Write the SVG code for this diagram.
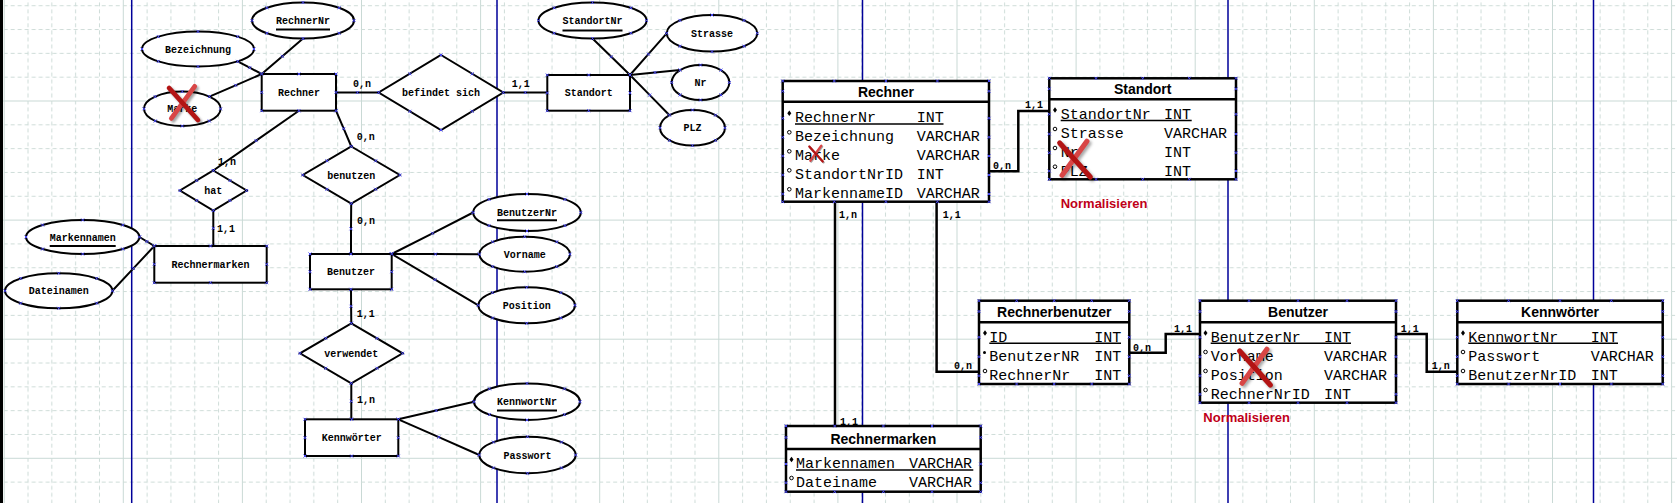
<svg xmlns="http://www.w3.org/2000/svg" xmlns:xlink="http://www.w3.org/1999/xlink" width="1677" height="503" viewBox="0 0 1677 503">
<style>
.er{fill:#fff;stroke:#000;stroke-width:2}
.ln{fill:none;stroke:#000;stroke-width:2;marker-start:url(#x);marker-mid:url(#x);marker-end:url(#x)}
.h{fill:none;stroke:none;marker-start:url(#x);marker-mid:url(#x);marker-end:url(#x)}
.t{font-family:"Liberation Mono",monospace;font-size:10px;font-weight:bold;text-anchor:middle;fill:#000}
.c{font-family:"Liberation Mono",monospace;font-size:10px;font-weight:bold;fill:#000}
.tb{fill:#fff;stroke:#000;stroke-width:2.5}
.sep{stroke:#000;stroke-width:2.5}
.th{font-family:"Liberation Sans",Arial,sans-serif;font-size:14px;font-weight:bold;text-anchor:middle;fill:#000}
.r{font-family:"Liberation Mono","Courier New",monospace;font-size:15px;fill:#000}
.ul{stroke:#000;stroke-width:1.5}
.eu{stroke:#000;stroke-width:2}
.norm{font-family:"Liberation Sans",Arial,sans-serif;font-weight:bold;font-size:13px;fill:#c00018}
.cn{fill:none;stroke:#000;stroke-width:2.5}
.pk{fill:#000}
.ok{fill:#fff;stroke:#000;stroke-width:1}
</style>
<defs>
<pattern id="grid" patternUnits="userSpaceOnUse" x="122.8" y="100.5" width="119.1" height="119.1">
<path d="M0.5,0V119.1M0,0.5H119.1" stroke="#c9d9d5" stroke-width="1" fill="none"/>
<path d="M24.3,0V119.1M48.1,0V119.1M71.9,0V119.1M95.8,0V119.1M0,24.3H119.1M0,48.1H119.1M0,71.9H119.1M0,95.8H119.1" stroke="#cedcd8" stroke-width="1" stroke-dasharray="4 3" fill="none"/>
</pattern>
<marker id="x" markerUnits="userSpaceOnUse" markerWidth="6" markerHeight="6" refX="3" refY="3" overflow="visible">
<path d="M1.5,1.5L4.5,4.5M4.5,1.5L1.5,4.5" stroke="#4646f0" stroke-width="1" fill="none"/>
</marker>
<filter id="sh" x="-50%" y="-50%" width="200%" height="200%"><feGaussianBlur stdDeviation="0.04"/></filter>
<g id="rx">
<path d="M-0.39,-0.44L0.51,0.56M0.41,-0.49L-0.32,0.51" stroke="#000" stroke-opacity="0.35" stroke-width="0.15" stroke-linecap="round" fill="none" filter="url(#sh)"/>
<path d="M0.35,-0.55L-0.38,0.45" stroke="#d84646" stroke-width="0.15" stroke-linecap="round" fill="none"/>
<path d="M-0.45,-0.5L0.45,0.5" stroke="#b31414" stroke-width="0.15" stroke-linecap="round" fill="none"/>
</g>
<path id="pkm" d="M0,-2.8L2,0L0,2.8L-2,0Z"/>
</defs>

<rect width="1677" height="503" fill="#fff"/>
<rect width="1677" height="503" fill="url(#grid)"/>
<path d="M131.7,0V503M497,0V503M862.5,0V503M1228,0V503M1593.5,0V503" stroke="#000099" stroke-width="1.5" fill="none"/>
<rect x="0" y="0" width="3" height="503" fill="#000"/>

<g id="connectors">
<polyline class="ln" points="303,38.5 282.4,56.3 261.7,74"/>
<polyline class="ln" points="237.6,61.4 249.7,67.7 261.7,74"/>
<polyline class="ln" points="209.4,96.6 235.6,85.3 261.7,74"/>
<polyline class="ln" points="298.9,110.7 256.1,140.6 213.3,170.5"/>
<polyline class="ln" points="213.3,210.5 213.3,228.3 213.3,246"/>
<polyline class="ln" points="139.4,237 146.9,241.5 154.3,246"/>
<polyline class="ln" points="112.4,290.8 133.4,268.4 154.3,246"/>
<polyline class="ln" points="336,92.5 357.4,92.5 378.7,92.5"/>
<polyline class="ln" points="503.3,92.5 525.3,92.5 547.3,92.5"/>
<polyline class="ln" points="630,75 611.3,56.8 592.5,38.5"/>
<polyline class="ln" points="630,75 648.4,54.2 666.7,33.3"/>
<polyline class="ln" points="630,75 655,72.5 680.1,70.1"/>
<polyline class="ln" points="630,75 649.8,95.1 669.5,115.2"/>
<polyline class="ln" points="336,110.7 343.7,128.6 351.3,146.5"/>
<polyline class="ln" points="351.2,203.5 351,228.8 351,254"/>
<polyline class="ln" points="391.7,254 432.5,233.3 473.2,212.5"/>
<polyline class="ln" points="391.7,254 435.5,254.1 479.4,254.2"/>
<polyline class="ln" points="391.7,254 435,279.7 478.4,305.3"/>
<polyline class="ln" points="351,289.3 351.1,306.3 351.3,323.3"/>
<polyline class="ln" points="351.3,383.3 351.3,401.3 351.3,419.3"/>
<polyline class="ln" points="398.3,419.3 436.2,410.5 474,401.7"/>
<polyline class="ln" points="398.3,419.3 438.8,437.2 479.3,455"/>
<text class="c" x="218" y="164.5">1,n</text>
<text class="c" x="217" y="231.7">1,1</text>
<text class="c" x="353" y="86.7">0,n</text>
<text class="c" x="511.7" y="86.7">1,1</text>
<text class="c" x="356.7" y="140">0,n</text>
<text class="c" x="357" y="224.3">0,n</text>
<text class="c" x="356.7" y="316.7">1,1</text>
<text class="c" x="357" y="403.3">1,n</text>

<path class="cn" d="M989,171.3H1018.3V111H1049.3"/>
<path class="cn" d="M936.6,201.7V371.7H979"/>
<path class="cn" d="M835,201.7V426"/>
<path class="cn" d="M1129.3,352.7H1165.7V334H1200"/>
<path class="cn" d="M1396,334H1426.7V371.7H1457.3"/>
<text class="c" x="993" y="169.3">0,n</text>
<text class="c" x="1025" y="108">1,1</text>
<text class="c" x="942.7" y="218.3">1,1</text>
<text class="c" x="954" y="369.3">0,n</text>
<text class="c" x="839" y="218.3">1,n</text>
<text class="c" x="840" y="425">1,1</text>
<text class="c" x="1133" y="350.7">0,n</text>
<text class="c" x="1174" y="331.5">1,1</text>
<text class="c" x="1400.7" y="331.7">1,1</text>
<text class="c" x="1431.7" y="369.3">1,n</text>
</g>

<!-- ER attributes -->
<g id="attr-bezeichnung"><ellipse class="er" cx="198" cy="49" rx="56" ry="17.5"/><text class="t" x="198" y="52.5">Bezeichnung</text>
<polyline class="h" points="254,49 237.6,61.4 198,66.5 158.4,61.4 142,49 158.4,36.6 198,31.5 237.6,36.6"/></g>
<g id="attr-rechnernr"><ellipse class="er" cx="303" cy="20.5" rx="51" ry="18"/><text class="t" x="303" y="24">RechnerNr</text><path class="eu" d="M276,29.5H330"/>
<polyline class="h" points="354,20.5 339.1,33.2 303,38.5 266.9,33.2 252,20.5 266.9,7.8 303,2.5 339.1,7.8"/></g>
<g id="attr-marke"><ellipse class="er" cx="182.3" cy="108.8" rx="38.3" ry="17.2"/><text class="t" x="182.3" y="112.3">Marke</text>
<polyline class="h" points="220.6,108.8 209.4,121 182.3,126 155.2,121 144,108.8 155.2,96.6 182.3,91.6 209.4,96.6"/>
<use xlink:href="#rx" href="#rx" transform="translate(183.5,104) scale(32)"/></g>
<g id="attr-standortnr"><ellipse class="er" cx="592.5" cy="20.5" rx="54" ry="18"/><text class="t" x="592.5" y="24">StandortNr</text><path class="eu" d="M562.5,30.5H622.5"/>
<polyline class="h" points="646.5,20.5 630.8,33.2 592.5,38.5 554.2,33.2 538.5,20.5 554.2,7.8 592.5,2.5 630.8,7.8"/></g>
<g id="attr-strasse"><ellipse class="er" cx="712" cy="33.3" rx="45.3" ry="18.3"/><text class="t" x="712" y="36.8">Strasse</text>
<polyline class="h" points="757.3,33.3 744,46.2 712,51.6 680,46.2 666.7,33.3 680,20.4 712,15 744,20.4"/></g>
<g id="attr-nr"><ellipse class="er" cx="700.5" cy="82.5" rx="28.8" ry="17.5"/><text class="t" x="700.5" y="86">Nr</text>
<polyline class="h" points="729.3,82.5 720.9,94.9 700.5,100 680.1,94.9 671.7,82.5 680.1,70.1 700.5,65 720.9,70.1"/></g>
<g id="attr-plz"><ellipse class="er" cx="692.5" cy="127.8" rx="32.5" ry="17.8"/><text class="t" x="692.5" y="131.3">PLZ</text>
<polyline class="h" points="725,127.8 715.5,140.4 692.5,145.6 669.5,140.4 660,127.8 669.5,115.2 692.5,110 715.5,115.2"/></g>
<g id="attr-markennamen"><ellipse class="er" cx="82.7" cy="237" rx="56.7" ry="17"/><text class="t" x="82.7" y="240.5">Markennamen</text><path class="eu" d="M49.7,246H115.7"/>
<polyline class="h" points="139.4,237 122.8,249 82.7,254 42.6,249 26,237 42.6,225 82.7,220 122.8,225"/></g>
<g id="attr-dateinamen"><ellipse class="er" cx="58.7" cy="290.8" rx="53.7" ry="17.5"/><text class="t" x="58.7" y="294.3">Dateinamen</text>
<polyline class="h" points="112.4,290.8 96.7,303.2 58.7,308.3 20.7,303.2 5,290.8 20.7,278.4 58.7,273.3 96.7,278.4"/></g>
<g id="attr-benutzernr"><ellipse class="er" cx="527" cy="212.5" rx="53.8" ry="18.5"/><text class="t" x="527" y="216">BenutzerNr</text><path class="eu" d="M497,220.3H557"/>
<polyline class="h" points="580.8,212.5 565,225.6 527,231 489,225.6 473.2,212.5 489,199.4 527,194 565,199.4"/></g>
<g id="attr-vorname"><ellipse class="er" cx="524.7" cy="254.2" rx="45.3" ry="17.5"/><text class="t" x="524.7" y="257.7">Vorname</text>
<polyline class="h" points="570,254.2 556.7,266.6 524.7,271.7 492.7,266.6 479.4,254.2 492.7,241.8 524.7,236.7 556.7,241.8"/></g>
<g id="attr-position"><ellipse class="er" cx="526.7" cy="305.3" rx="48.3" ry="18"/><text class="t" x="526.7" y="308.8">Position</text>
<polyline class="h" points="575,305.3 560.8,318 526.7,323.3 492.6,318 478.4,305.3 492.6,292.6 526.7,287.3 560.8,292.6"/></g>
<g id="attr-kennwortnr"><ellipse class="er" cx="527" cy="401.7" rx="53" ry="18.3"/><text class="t" x="527" y="405.2">KennwortNr</text><path class="eu" d="M497,410.5H557"/>
<polyline class="h" points="580,401.7 564.5,414.6 527,420 489.5,414.6 474,401.7 489.5,388.8 527,383.4 564.5,388.8"/></g>
<g id="attr-passwort"><ellipse class="er" cx="527.5" cy="455" rx="48.2" ry="18.3"/><text class="t" x="527.5" y="458.5">Passwort</text>
<polyline class="h" points="575.7,455 561.6,467.9 527.5,473.3 493.4,467.9 479.3,455 493.4,442.1 527.5,436.7 561.6,442.1"/></g>

<!-- ER entities -->
<g id="ent-rechner"><rect class="er" x="261.7" y="74" width="74.3" height="36.7"/><text class="t" x="298.9" y="96">Rechner</text>
<polyline class="h" points="261.7,74 298.9,74 336,74 336,92.4 336,110.7 298.9,110.7 261.7,110.7 261.7,92.4"/></g>
<g id="ent-standort"><rect class="er" x="547.3" y="75" width="82.7" height="35.7"/><text class="t" x="588.7" y="96.4">Standort</text>
<polyline class="h" points="547.3,75 588.7,75 630,75 630,92.9 630,110.7 588.7,110.7 547.3,110.7 547.3,92.9"/></g>
<g id="ent-rechnermarken"><rect class="er" x="154.3" y="246" width="112.4" height="36.7"/><text class="t" x="210.5" y="267.8">Rechnermarken</text>
<polyline class="h" points="154.3,246 210.5,246 266.7,246 266.7,264.3 266.7,282.7 210.5,282.7 154.3,282.7 154.3,264.3"/></g>
<g id="ent-benutzer"><rect class="er" x="310" y="254" width="81.7" height="35.3"/><text class="t" x="350.9" y="275.2">Benutzer</text>
<polyline class="h" points="310,254 350.9,254 391.7,254 391.7,271.7 391.7,289.3 350.9,289.3 310,289.3 310,271.7"/></g>
<g id="ent-kennwoerter"><rect class="er" x="305" y="419.3" width="93.3" height="36.7"/><text class="t" x="351.7" y="441.2">Kennwörter</text>
<polyline class="h" points="305,419.3 351.7,419.3 398.3,419.3 398.3,437.7 398.3,456 351.7,456 305,456 305,437.7"/></g>

<!-- ER relationships -->
<g id="rel-hat"><polygon class="er" points="213.3,170.5 246.6,190.5 213.3,210.5 180,190.5"/><text class="t" x="213.3" y="194">hat</text>
<polyline class="h" points="213.3,170.5 230,180.5 246.6,190.5 230,200.5 213.3,210.5 196.7,200.5 180,190.5 196.7,180.5"/></g>
<g id="rel-befindet"><polygon class="er" points="441,55 503.3,92.5 441,130 378.7,92.5"/><text class="t" x="441" y="96">befindet sich</text>
<polyline class="h" points="441,55 472.2,73.8 503.3,92.5 472.2,111.3 441,130 409.9,111.3 378.7,92.5 409.9,73.8"/></g>
<g id="rel-benutzen"><polygon class="er" points="351.3,146.5 399.8,175 351.3,203.5 302.8,175"/><text class="t" x="351.3" y="178.5">benutzen</text>
<polyline class="h" points="351.3,146.5 375.6,160.8 399.8,175 375.6,189.3 351.3,203.5 327,189.3 302.8,175 327,160.8"/></g>
<g id="rel-verwendet"><polygon class="er" points="351.3,323.3 402.6,353.3 351.3,383.3 300,353.3"/><text class="t" x="351.3" y="356.8">verwendet</text>
<polyline class="h" points="351.3,323.3 377,338.3 402.6,353.3 377,368.3 351.3,383.3 325.7,368.3 300,353.3 325.7,338.3"/></g>

<!-- Tables -->
<g id="tbl-rechner">
<rect class="tb" x="782.7" y="81" width="206.3" height="120.7"/><path class="sep" d="M782.7,101.7H989"/>
<text class="th" x="885.9" y="97">Rechner</text>
<use href="#pkm" xlink:href="#pkm" class="pk" x="789.3" y="113.3"/>
<circle class="ok" cx="789.3" cy="132.3" r="1.8"/><circle class="ok" cx="789.3" cy="151.3" r="1.8"/><circle class="ok" cx="789.3" cy="170.3" r="1.8"/><circle class="ok" cx="789.3" cy="189.3" r="1.8"/>
<text class="r" x="795" y="122.3">RechnerNr</text><text class="r" x="916.7" y="122.3">INT</text>
<text class="r" x="795" y="141.3">Bezeichnung</text><text class="r" x="916.7" y="141.3">VARCHAR</text>
<text class="r" x="795" y="160.3">Marke</text><text class="r" x="916.7" y="160.3">VARCHAR</text>
<text class="r" x="795" y="179.3">StandortNrID</text><text class="r" x="916.7" y="179.3">INT</text>
<text class="r" x="795" y="198.3">MarkennameID</text><text class="r" x="916.7" y="198.3">VARCHAR</text>
<path class="ul" d="M795,124H943.5"/>
<polyline class="h" points="782.7,81 834.3,81 885.9,81 937.4,81 989,81 989,91.3 989,118.3 989,137.3 989,156 989,175 989,194 989,201.7 937.4,201.7 885.9,201.7 834.3,201.7 782.7,201.7 782.7,194 782.7,175 782.7,156 782.7,137.3 782.7,118.3 782.7,91.3"/>
<use href="#rx" xlink:href="#rx" transform="translate(816,154) scale(15)"/>
</g>
<g id="tbl-standort">
<rect class="tb" x="1049.3" y="78.3" width="186.7" height="101"/><path class="sep" d="M1049.3,99.3H1236"/>
<text class="th" x="1142.7" y="94">Standort</text>
<use href="#pkm" xlink:href="#pkm" class="pk" x="1055" y="110"/>
<circle class="ok" cx="1055" cy="129" r="1.8"/><circle class="ok" cx="1055" cy="148" r="1.8"/><circle class="ok" cx="1055" cy="166.7" r="1.8"/>
<text class="r" x="1060.7" y="119">StandortNr</text><text class="r" x="1164" y="119">INT</text>
<text class="r" x="1060.7" y="138">Strasse</text><text class="r" x="1164" y="138">VARCHAR</text>
<text class="r" x="1060.7" y="157">Nr</text><text class="r" x="1164" y="157">INT</text>
<text class="r" x="1060.7" y="175.7">PLZ</text><text class="r" x="1164" y="175.7">INT</text>
<path class="ul" d="M1060.7,120.6H1191.7"/>
<polyline class="h" points="1049.3,78.3 1096,78.3 1142.7,78.3 1189.3,78.3 1236,78.3 1236,88.8 1236,114.3 1236,134 1236,152.7 1236,171 1236,179.3 1189.3,179.3 1142.7,179.3 1096,179.3 1049.3,179.3 1049.3,171 1049.3,152.7 1049.3,134 1049.3,114.3 1049.3,88.8"/>
<use href="#rx" xlink:href="#rx" transform="translate(1075,160) scale(34)"/>
<text class="norm" x="1060.7" y="207.7">Normalisieren</text>
</g>
<g id="tbl-rechnerbenutzer">
<rect class="tb" x="979" y="300.7" width="150.3" height="83.3"/><path class="sep" d="M979,322.3H1129.3"/>
<text class="th" x="1054.2" y="317.3">Rechnerbenutzer</text>
<use href="#pkm" xlink:href="#pkm" class="pk" x="985" y="333"/>
<circle class="pk" cx="984.5" cy="352.5" r="1.5"/><circle class="ok" cx="985" cy="371" r="1.8"/>
<text class="r" x="989.3" y="341.7">ID</text><text class="r" x="1094.3" y="341.7">INT</text>
<text class="r" x="989.3" y="360.7">BenutzerNR</text><text class="r" x="1094.3" y="360.7">INT</text>
<text class="r" x="989.3" y="379.7">RechnerNr</text><text class="r" x="1094.3" y="379.7">INT</text>
<path class="ul" d="M989.3,343.3H1121"/>
<polyline class="h" points="979,300.7 1016.6,300.7 1054.2,300.7 1091.7,300.7 1129.3,300.7 1129.3,311.5 1129.3,337.3 1129.3,356.7 1129.3,375.7 1129.3,384 1091.7,384 1054.2,384 1016.6,384 979,384 979,375.7 979,356.7 979,337.3 979,311.5"/>
</g>
<g id="tbl-benutzer">
<rect class="tb" x="1200" y="300.7" width="196" height="102"/><path class="sep" d="M1200,322.3H1396"/>
<text class="th" x="1298" y="317.3">Benutzer</text>
<use href="#pkm" xlink:href="#pkm" class="pk" x="1205.5" y="333"/>
<circle class="ok" cx="1205.5" cy="352" r="1.8"/><circle class="ok" cx="1205.5" cy="371" r="1.8"/><circle class="ok" cx="1205.5" cy="390" r="1.8"/>
<text class="r" x="1210.7" y="341.7">BenutzerNr</text><text class="r" x="1324" y="341.7">INT</text>
<text class="r" x="1210.7" y="360.7">Vorname</text><text class="r" x="1324" y="360.7">VARCHAR</text>
<text class="r" x="1210.7" y="379.7">Position</text><text class="r" x="1324" y="379.7">VARCHAR</text>
<text class="r" x="1210.7" y="398.5">RechnerNrID</text><text class="r" x="1324" y="398.5">INT</text>
<path class="ul" d="M1210.7,343.3H1351"/>
<polyline class="h" points="1200,300.7 1249,300.7 1298,300.7 1347,300.7 1396,300.7 1396,311.5 1396,337.3 1396,356.7 1396,375.7 1396,394.3 1396,402.7 1347,402.7 1298,402.7 1249,402.7 1200,402.7 1200,394.3 1200,375.7 1200,356.7 1200,337.3 1200,311.5"/>
<use href="#rx" xlink:href="#rx" transform="translate(1255,368) scale(34)"/>
<text class="norm" x="1203.3" y="421.7">Normalisieren</text>
</g>
<g id="tbl-kennwoerter">
<rect class="tb" x="1457.3" y="300.7" width="205.4" height="83.3"/><path class="sep" d="M1457.3,322.3H1662.7"/>
<text class="th" x="1560" y="317.3">Kennwörter</text>
<use href="#pkm" xlink:href="#pkm" class="pk" x="1463" y="333"/>
<circle class="ok" cx="1463" cy="352" r="1.8"/><circle class="ok" cx="1463" cy="371" r="1.8"/>
<text class="r" x="1468.3" y="341.7">KennwortNr</text><text class="r" x="1590.7" y="341.7">INT</text>
<text class="r" x="1468.3" y="360.7">Passwort</text><text class="r" x="1590.7" y="360.7">VARCHAR</text>
<text class="r" x="1468.3" y="379.7">BenutzerNrID</text><text class="r" x="1590.7" y="379.7">INT</text>
<path class="ul" d="M1468.3,343.3H1618"/>
<polyline class="h" points="1457.3,300.7 1508.6,300.7 1560,300.7 1611.4,300.7 1662.7,300.7 1662.7,311.5 1662.7,337.3 1662.7,356.7 1662.7,375.7 1662.7,384 1611.4,384 1560,384 1508.6,384 1457.3,384 1457.3,375.7 1457.3,356.7 1457.3,337.3 1457.3,311.5"/>
</g>
<g id="tbl-rechnermarken">
<rect class="tb" x="786" y="426" width="194.7" height="65.7"/><path class="sep" d="M786,449H980.7"/>
<text class="th" x="883.3" y="444.3">Rechnermarken</text>
<use href="#pkm" xlink:href="#pkm" class="pk" x="791.5" y="459.5"/>
<circle class="ok" cx="791.5" cy="478" r="1.8"/>
<text class="r" x="796" y="468.3">Markennamen</text><text class="r" x="909" y="468.3">VARCHAR</text>
<text class="r" x="796" y="487">Dateiname</text><text class="r" x="909" y="487">VARCHAR</text>
<path class="ul" d="M796,470H973.3"/>
<polyline class="h" points="786,426 834.7,426 883.4,426 932,426 980.7,426 980.7,437.5 980.7,464 980.7,482.7 980.7,491.7 932,491.7 883.4,491.7 834.7,491.7 786,491.7 786,482.7 786,464 786,437.5"/>
</g>
</svg>
